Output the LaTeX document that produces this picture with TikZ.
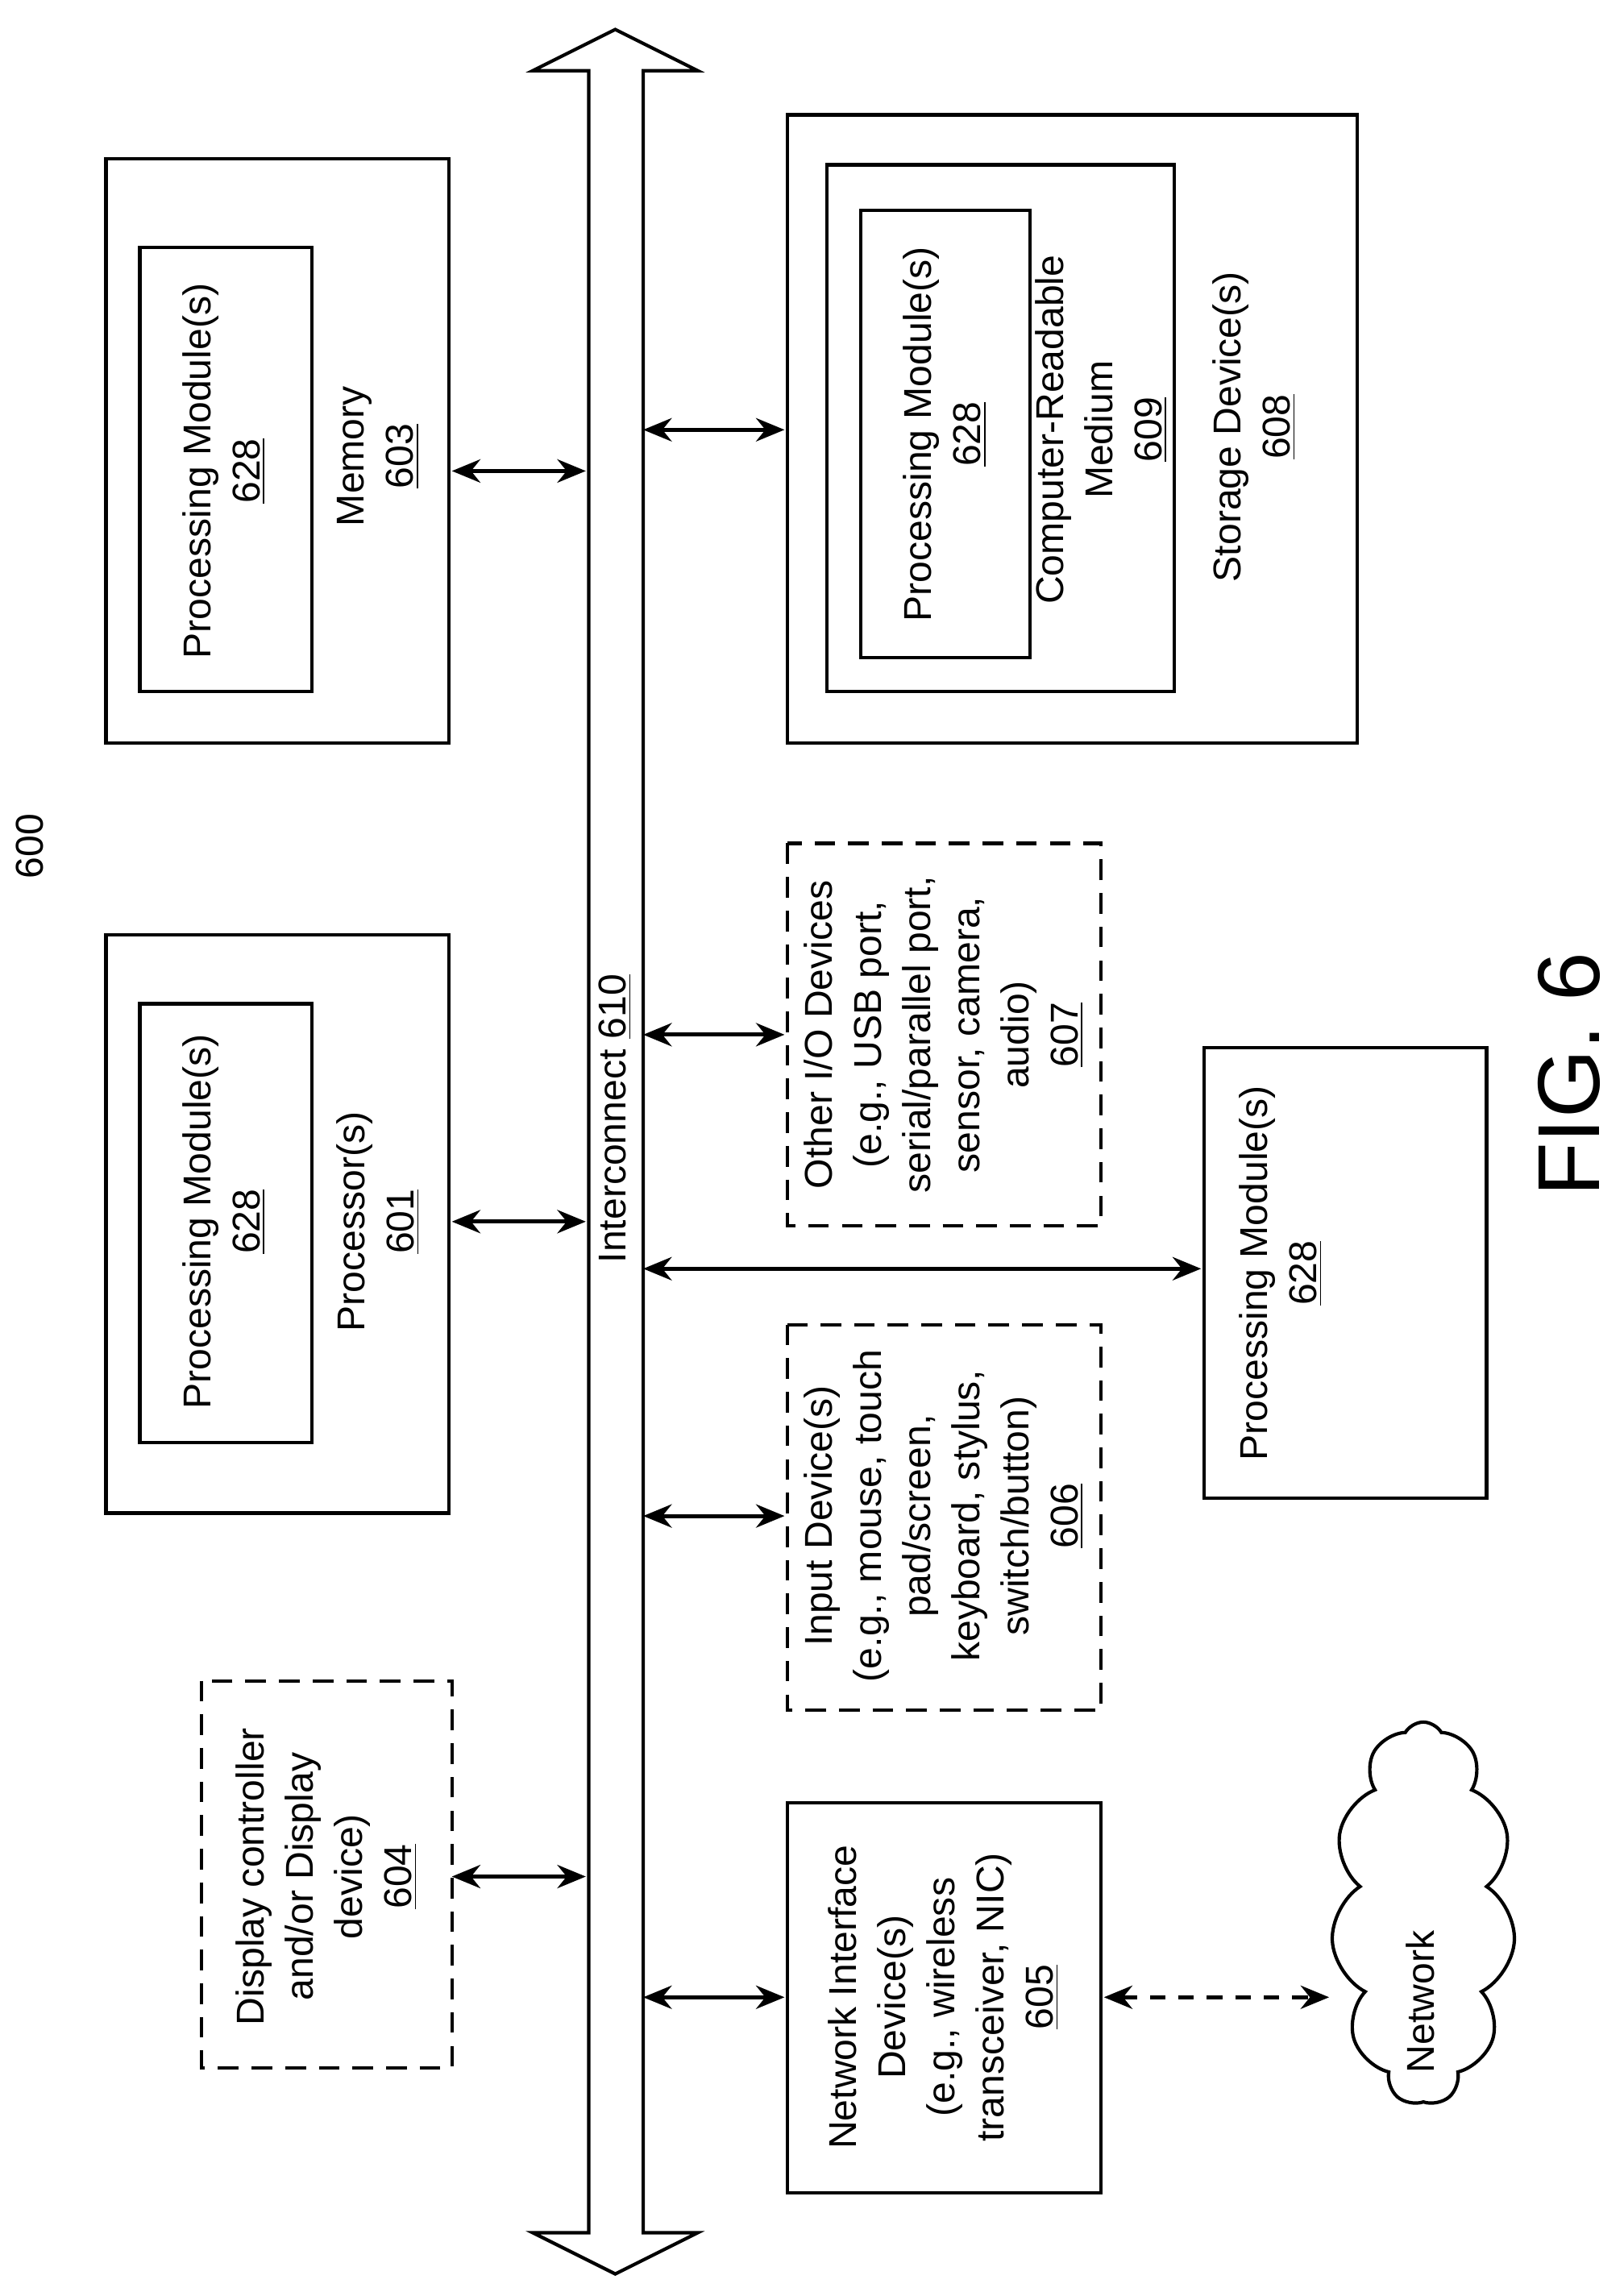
\documentclass[tikz,border=0pt]{standalone}
\usepackage{fontspec}
\setmainfont{Liberation Sans}
\usetikzlibrary{arrows.meta,shapes.symbols}
\begin{document}
\begin{tikzpicture}[x=0.02cm,y=-0.02cm,
  box/.style={draw,line width=1.3pt},
  dbox/.style={draw,line width=1.3pt,dash pattern=on 8pt off 5pt},
  lbl/.style={rotate=90,align=center,font=\fontsize{15}{19}\selectfont},
  arr/.style={line width=1.6pt,{Stealth[length=11pt,width=9pt]}-{Stealth[length=11pt,width=9pt]}},
  darr/.style={arr,dash pattern=on 6pt off 5pt}]
\useasboundingbox (0,0) rectangle (1103,1560);
% bus
\draw[line width=1.3pt,fill=white] (400,48) -- (362,48) -- (418,20) -- (474,48) -- (437,48) -- (437,1517) -- (474,1517) -- (418,1545) -- (362,1517) -- (400,1517) -- cycle;
\node[lbl] (bus) at (418,760) {Interconnect \underline{610}};
\node[lbl] (n600) at (20,575) {600};
% memory
\draw[box] (72,108) rectangle (305,505);
\draw[box] (95,168) rectangle (212,470);
\node[lbl] (mpm) at (152,320) {Processing Module(s)\\\underline{628}};
\node[lbl] (mem) at (257,310) {Memory\\\underline{603}};
% processor
\draw[box] (72,635) rectangle (305,1028);
\draw[box] (95,682) rectangle (212,980);
\node[lbl] (ppm) at (152,830) {Processing Module(s)\\\underline{628}};
\node[lbl] (proc) at (257,830) {Processor(s)\\\underline{601}};
% display
\draw[dbox] (137,1142) rectangle (307,1405);
\node[lbl] (disp) at (222,1275) {Display controller\\and/or Display\\device)\\\underline{604}};
\coordinate (m1) at (307,320); \coordinate (m2) at (398,320);
\coordinate (p1) at (307,830); \coordinate (p2) at (398,830);
\coordinate (d1) at (307,1275); \coordinate (d2) at (398,1275);
\draw[arr] (m1) -- (m2); \draw[arr] (p1) -- (p2); \draw[arr] (d1) -- (d2);
% storage
\draw[box] (535,78) rectangle (922,505);
\draw[box] (562,112) rectangle (798,470);
\draw[box] (585,143) rectangle (700,447);
\node[lbl] (spm) at (642,295) {Processing Module(s)\\\underline{628}};
\node[lbl] (crm) at (748,292) {Computer-Readable\\Medium\\\underline{609}};
\node[lbl] (sto) at (852,290) {Storage Device(s)\\\underline{608}};
% other io
\draw[dbox] (535,573) rectangle (748,833);
\node[lbl] (oio) at (641,703) {Other I/O Devices\\(e.g., USB port,\\serial/parallel port,\\sensor, camera,\\audio)\\\underline{607}};
% input
\draw[dbox] (535,900) rectangle (748,1162);
\node[lbl] (inp) at (641,1030) {Input Device(s)\\(e.g., mouse, touch\\pad/screen,\\keyboard, stylus,\\switch/button)\\\underline{606}};
% network interface
\draw[box] (535,1225) rectangle (748,1490);
\node[lbl] (nic) at (641,1357) {Network Interface\\Device(s)\\(e.g., wireless\\transceiver, NIC)\\\underline{605}};
% processing module
\draw[box] (818,712) rectangle (1010,1018);
\node[lbl] (pm) at (870,865) {Processing Module(s)\\\underline{628}};
% cloud
\node[cloud,draw,line width=1.3pt,cloud puffs=11,cloud puff arc=120,aspect=0.45,minimum width=2.5cm,minimum height=5.2cm] (cl) at (967,1300) {};
\node[lbl] (net) at (965,1360) {Network};
% right arrows
\coordinate (s1) at (437,292); \coordinate (s2) at (533,292);
\coordinate (o1) at (437,703); \coordinate (o2) at (533,703);
\coordinate (i1) at (437,1030); \coordinate (i2) at (533,1030);
\coordinate (n1) at (437,1357); \coordinate (n2) at (533,1357);
\coordinate (q1) at (437,862); \coordinate (q2) at (816,862);
\coordinate (c1) at (750,1357); \coordinate (c2) at (903,1357);
\draw[arr] (s1) -- (s2); \draw[arr] (o1) -- (o2); \draw[arr] (i1) -- (i2);
\draw[arr] (n1) -- (n2); \draw[arr] (q1) -- (q2); \draw[darr] (c1) -- (c2);
\node[rotate=90,font=\fontsize{34}{40}\selectfont] (fig) at (1066,730) {FIG. 6};
\end{tikzpicture}
\end{document}
